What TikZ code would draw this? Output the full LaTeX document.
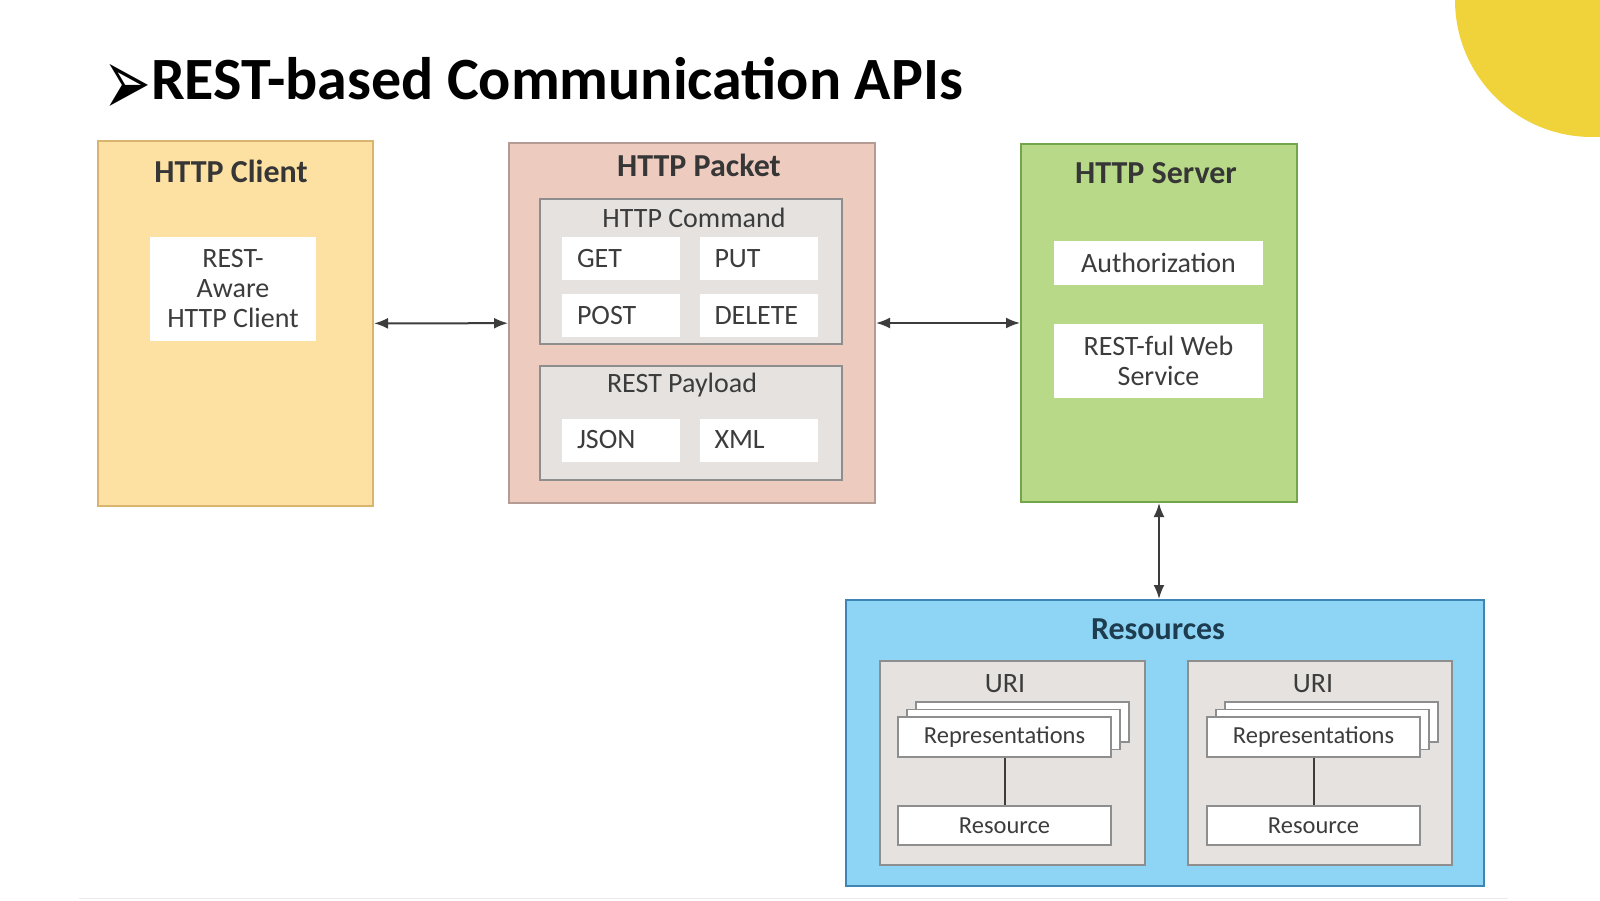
\documentclass[tikz,border=0pt]{standalone}
\usepackage{fontspec}
\setmainfont{Carlito}
\newfontfamily\symfont{DejaVu Sans}
\usetikzlibrary{arrows.meta}

\definecolor{sun}{HTML}{F0D23A}
\definecolor{clientfill}{HTML}{FDE1A2}
\definecolor{clientline}{HTML}{D8B46E}
\definecolor{packetfill}{HTML}{EECBBF}
\definecolor{packetline}{HTML}{B49C95}
\definecolor{serverfill}{HTML}{B8DA88}
\definecolor{serverline}{HTML}{73A54A}
\definecolor{resfill}{HTML}{8ED5F5}
\definecolor{resline}{HTML}{3D86B4}
\definecolor{restext}{HTML}{1E3C50}
\definecolor{boxgray}{HTML}{E5E2E0}
\definecolor{linegray}{HTML}{8E8E8E}
\definecolor{ink}{HTML}{3C3C3C}

\tikzset{
  title/.style={font=\fontsize{32}{34}\selectfont\bfseries,text=ink!90!black,inner sep=0},
  label/.style={font=\fontsize{28}{30}\selectfont,text=ink,inner sep=0},
  small/.style={font=\fontsize{24.5}{26}\selectfont,text=ink,inner sep=0},
  whitebox/.style={fill=white,inner sep=0},
  cmdbox/.style={fill=white,minimum height=43pt,text width=88pt,inner xsep=15pt,inner ysep=0,
    font=\fontsize{28}{30}\selectfont,text=ink,align=left},
  graybox/.style={draw=linegray,fill=boxgray,line width=1.8pt,inner sep=0},
  sheet/.style={draw=linegray,fill=white,line width=1.8pt,minimum width=213pt,minimum height=40pt,inner sep=0}
}

\begin{document}
\begin{tikzpicture}[x=1pt,y=-1pt]

  \useasboundingbox (0,0) rectangle (1600,900);
  \fill[white] (0,0) rectangle (1600,900);
  \begin{scope}
    \clip (0,0) rectangle (1600,900);
    \fill[sun] (1592,0) circle (137pt);
  \end{scope}
  \draw[black!8,line width=1pt] (79,898) -- (1508,898);

  % heading
  \node[inner sep=0,font=\symfont\fontsize{60}{60}\selectfont] (0) at (127,90) {\scalebox{0.95}[1.6]{➢}};
  \node[anchor=base west,inner sep=0,font=\fontsize{60}{60}\selectfont\bfseries] (00) at (151,99) {REST-based Communication APIs};

  % outer blocks
  \node[draw=clientline,fill=clientfill,line width=2pt,minimum width=275pt,minimum height=365pt] (1) at (235.5,323.5) {};
  \node[draw=packetline,fill=packetfill,line width=2pt,minimum width=366pt,minimum height=360pt] (2) at (692,323) {};
  \node[draw=serverline,fill=serverfill,line width=2pt,minimum width=276pt,minimum height=358pt] (3) at (1159,323) {};
  \node[draw=resline,fill=resfill,line width=2pt,minimum width=638pt,minimum height=286pt] (4) at (1165,743) {};

  \node[title] at (231,171) {HTTP Client};
  \node[title] at (699,165) {HTTP Packet};
  \node[title] at (1156,173) {HTTP Server};
  \node[title,text=restext] at (1158,629) {Resources};

  % client
  \node[whitebox,minimum width=166pt,minimum height=104pt] (5) at (233,289) {};
  \node[label,align=center] at (233,289) {REST-\\Aware\\HTTP Client};

  % packet
  \node[graybox,minimum width=302pt,minimum height=145pt] (6) at (691,271.5) {};
  \node[graybox,minimum width=302pt,minimum height=114pt] (7) at (691,423) {};
  \node[label] at (694,218) {HTTP Command};
  \node[label] at (682,385) {REST Payload};

  \begin{scope}[every node/.style={cmdbox}]
    \node (8)  at (621,258.5)   {GET};
    \node (9)  at (758.5,258.5) {PUT};
    \node (10) at (621,315.5)   {POST};
    \node (11) at (758.5,315.5) {DELETE};
    \node (12) at (621,440)     {JSON};
    \node (13) at (758.5,440)   {XML};
  \end{scope}

  % server
  \node[whitebox,minimum width=209pt,minimum height=44pt] (14) at (1158.5,263) {};
  \node[label] at (1158.5,263) {Authorization};
  \node[whitebox,minimum width=209pt,minimum height=74pt] (15) at (1158.5,361) {};
  \node[label,align=center] at (1158.5,361) {REST-ful Web\\Service};

  % resources
  \node[graybox,minimum width=265pt,minimum height=204pt] (16) at (1012.5,763) {};
  \node[graybox,minimum width=264pt,minimum height=204pt] (17) at (1320,763) {};
  \node[label] at (1005,684) {URI};
  \node[label] at (1313,684) {URI};

  \node[sheet] at (1022.5,722) {};
  \node[sheet] at (1013.5,729.5) {};
  \node[sheet,small] (18) at (1004.5,737) {Representations};
  \node[sheet,small,minimum height=39pt] (19) at (1004.5,825.5) {Resource};

  \node[sheet] at (1331.5,722) {};
  \node[sheet] at (1322.5,729.5) {};
  \node[sheet,small] (20) at (1313.5,737) {Representations};
  \node[sheet,small,minimum height=39pt] (21) at (1313.5,825.5) {Resource};

  % links
  \begin{scope}[every edge/.style={draw,ink,line width=2pt,{Latex[length=14pt,width=11pt]}-{Latex[length=14pt,width=11pt]}}]
    \path (1) edge (2);
    \path (2) edge (3);
    \path (3.south) edge (3.south |- 4.north);
  \end{scope}
  \draw[ink,line width=2pt] (18) -- (19);
  \draw[ink,line width=2pt] (20) -- (21);

\end{tikzpicture}
\end{document}
